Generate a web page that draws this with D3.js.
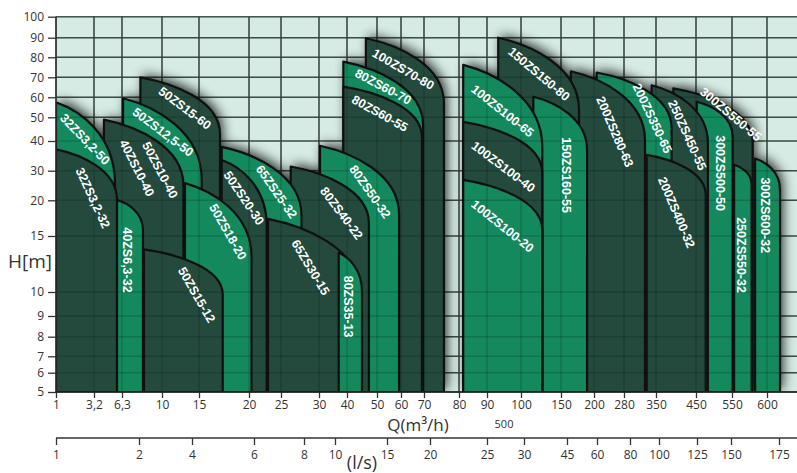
<!DOCTYPE html>
<html><head><meta charset="utf-8">
<script src="https://cdn.jsdelivr.net/npm/d3@7"></script>
<style>body{margin:0;background:#fff}</style>
</head><body>
<svg id="c" width="797" height="473"></svg>
<script>
// ---------- data ----------
const qTicks = [1,3.2,6.3,10,15,20,25,30,40,50,60,70,80,90,100,150,200,280,350,450,550,600];
const qTickLabels = ["1","3,2","6,3","10","15","20","25","30","40","50","60","70","80","90","100","150","200","280","350","450","550","600"];
const hTicks = [5,6,7,8,9,10,15,20,30,40,50,60,70,80,90,100];
const lsTicks = [1,2,4,6,8,10,15,20,25,30,45,60,80,100,125,150,175];

// pump fields in drawing order (back to front)
const models = ["50ZS15-60","50ZS12,5-50","40ZS10-40/50ZS10-40","32ZS3,2-50","32ZS3,2-32","40ZS6,3-32",
  "100ZS70-80","80ZS60-70","80ZS60-55","80ZS50-32","80ZS40-22","65ZS25-32","50ZS20-30","50ZS18-20","50ZS15-12","65ZS30-15","80ZS35-13",
  "300ZS550-55","300ZS500-50","250ZS450-55","200ZS350-65","200ZS280-63","150ZS150-80","150ZS160-55",
  "100ZS100-65","100ZS100-40","100ZS100-20","200ZS400-32","250ZS550-32","300ZS600-32"];
const qStart = [8,6.4,4.3,1,1,5.75, 46.3,38.7,38.7,30.36,26.28,17.27,17.27,13.1,8.33,22.97,37.04,
  393.3,452,340.5,207.2,165,93.3,115.4, 81.5,81.5,81.5,329.6,553,583];
const qEnd = [17.1,15.27,12.9,5.53,5.75,8.24, 75.7,69.6,69.1,59.2,47.3,27.7,22.77,20.4,17.37,44,45,
  579.6,551,483,389,325.9,177.3,189.5, 126.6,126.6,126.6,477,578,618.6];
const hTop = [70,59.5,49,57.5,37.2,20.1, 89.7,77.8,65.3,38.4,31.4,38,33.6,25.8,13.8,17.4,13.5,
  64.5,57.8,66,72.4,73,90,60.3, 76.2,48.1,26.9,35.3,32,34.1];
const hBend = [43,27,25,25.5,20.1,15.8, 57,46.7,41.7,18,16.8,17.9,16.5,13.1,9.9,10.1,10,
  39.4,41.7,39.4,45.5,40.4,53.7,37, 38,29.2,15.8,21.8,25.2,23.5];
const series = ["dark","light","dark","light","dark","light", "dark","light","dark","light","dark","light","dark","light","dark","dark","light",
  "dark","light","dark","light","dark","dark","light", "light","dark","light","dark","light","light"];

// labels (anchor in data units)
const labelText = ["50ZS15-60","50ZS12,5-50","40ZS10-40","50ZS10-40","32ZS3,2-50","32ZS3,2-32","40ZS6,3-32",
  "100ZS70-80","80ZS60-70","80ZS60-55","80ZS50-32","80ZS40-22","65ZS25-32","50ZS20-30","50ZS18-20","50ZS15-12","65ZS30-15","80ZS35-13",
  "150ZS150-80","150ZS160-55","100ZS100-65","100ZS100-40","100ZS100-20","200ZS280-63","200ZS350-65","200ZS400-32","250ZS450-55",
  "300ZS550-55","300ZS500-50","250ZS550-32","300ZS600-32"];
const labelQ = [13.1,10.14,7.69,9.82,2.68,3.14,6.76, 61,52.6,51.25,47.7,38.1,24.3,19.5,17.9,14.7,28.9,40.4,
  122.5,158.6,94.6,94.8,94.6,256,342.3,401.75,428.75, 546.7,516.7,563.9,597.1];
const labelH = [54.65,43.8,30.9,30.24,40.8,20.8,12.86, 74.05,65.3,52,22.9,18.2,22.9,20.8,15.6,9.88,12.2,9.39,
  71.65,28.5,53.25,31.35,16.4,43.9,49.6,18.3,42.5, 51.55,29.2,13.3,17.9];
const labelAngle = [37,37,63,62,46,65,90, 30,28,29,55,53,55,56,60,60,59,90,
  40,90,38.5,37,38.5,66.5,64.5,67,65.5, 40,90,90,90];

// ---------- layout ----------
const qPx = [56,94,122,162,199,249,281,319,347,377,401,424,459,487,521,561,594,624,656,696,732,767];
const hPx = [392,372.7,356.3,336.7,316,292,236,200.3,170.7,141,117.3,97.3,77.3,57.3,37.7,16.7];
const lsPx = [56,139,192,254,304,335,387,430,487,524,567,597,630,659,697,731,779];
const plotL = 56, plotR = 797, plotT = 16.7, plotB = 392, lsY = 438;

const x = d3.scaleLinear().domain(qTicks).range(qPx);
const y = d3.scaleLinear().domain(hTicks).range(hPx);
const xs = d3.scaleLinear().domain(lsTicks).range(lsPx);
const color = d3.scaleOrdinal().domain(["dark","light"]).range(["#234a3d","#13895d"]);

const svg = d3.select("#c");
const defs = svg.append("defs");
defs.append("clipPath").attr("id","plot").append("rect")
  .attr("x",plotL).attr("y",plotT).attr("width",plotR-plotL).attr("height",plotB-plotT);
const f = defs.append("filter").attr("id","sh").attr("x","-30%").attr("y","-30%").attr("width","160%").attr("height","160%");
f.append("feGaussianBlur").attr("in","SourceAlpha").attr("stdDeviation",6);
f.append("feOffset").attr("dx",3).attr("dy",-3).attr("result","b");
f.append("feComponentTransfer").append("feFuncA").attr("type","linear").attr("slope",0.8);

// background
svg.append("rect").attr("x",plotL).attr("y",plotT).attr("width",plotR-plotL).attr("height",plotB-plotT).attr("fill","#d5ebe4");

function grid(g, stroke, op, sw){
  g.selectAll(".v").data(qTicks).join("line").attr("class","v")
    .attr("x1",d=>x(d)).attr("x2",d=>x(d)).attr("y1",plotT).attr("y2",plotB)
    .attr("stroke",stroke).attr("stroke-opacity",op).attr("stroke-width",sw);
  g.selectAll(".h").data(hTicks).join("line").attr("class","h")
    .attr("x1",plotL).attr("x2",plotR).attr("y1",d=>y(d)).attr("y2",d=>y(d))
    .attr("stroke",stroke).attr("stroke-opacity",op).attr("stroke-width",sw);
}
grid(svg.append("g"), "#4c5b56", 1, 1.6);

const idx = d3.range(models.length);
function shapePath(i){
  const x0 = x(qStart[i]), x1 = x(qEnd[i]), yT = y(hTop[i]), yE = y(hBend[i]), yB = y(5);
  const w = x1-x0, h = yE-yT;
  return `M${x0},${yB}L${x0},${yT}C${x0+0.4*w},${yT+0.1*h} ${x1},${yE-0.6*h} ${x1},${yE}L${x1},${yB}Z`;
}

const clipG = svg.append("g").attr("clip-path","url(#plot)");
clipG.append("g").attr("filter","url(#sh)").selectAll("path").data(idx).join("path")
  .attr("d",shapePath).attr("fill","#000");
clipG.append("g").selectAll("path").data(idx).join("path")
  .attr("d",shapePath).attr("fill",i=>color(series[i]))
  .attr("stroke","#101010").attr("stroke-width",2.2).attr("stroke-linejoin","round");
// faint grid over the fields
grid(clipG.append("g"), "#000", 0.16, 1.4);

// labels
svg.append("g").selectAll("text").data(d3.range(labelText.length)).join("text")
  .attr("transform",i=>`translate(${x(labelQ[i])},${y(labelH[i])}) rotate(${labelAngle[i]})`)
  .attr("text-anchor","middle").attr("dy","0.35em")
  .attr("font-family","'Liberation Sans',Arial,sans-serif").attr("font-weight","bold")
  .attr("font-size",12.5).attr("fill","#fff").text(i=>labelText[i]);

// axes
const axFont = "'Open Sans','DejaVu Sans',sans-serif";
function styleAxis(g){
  g.select(".domain").remove();
  g.selectAll("line").attr("stroke","#333").attr("stroke-width",1.3);
  g.selectAll("text").attr("font-family",axFont).attr("font-size",12).attr("fill","#333");
}
const yAx = svg.append("g").attr("transform",`translate(${plotL},0)`)
  .call(d3.axisLeft(y).tickValues(hTicks).tickSize(8).tickPadding(4).tickFormat(d3.format("d")));
styleAxis(yAx);
const xAx = svg.append("g").attr("transform",`translate(0,${plotB})`)
  .call(d3.axisBottom(x).tickValues(qTicks).tickSize(6).tickPadding(2).tickFormat((d,i)=>qTickLabels[i]));
styleAxis(xAx);
svg.append("line").attr("x1",plotL).attr("x2",plotR).attr("y1",plotB).attr("y2",plotB).attr("stroke","#222").attr("stroke-width",1.5);
svg.append("line").attr("x1",plotL).attr("x2",plotL).attr("y1",plotT).attr("y2",plotB).attr("stroke","#333").attr("stroke-width",1.3);

const lsAx = svg.append("g").attr("transform",`translate(0,${lsY})`)
  .call(d3.axisBottom(xs).tickValues(lsTicks).tickSize(7).tickPadding(5).tickFormat(d3.format("d")));
styleAxis(lsAx);
svg.append("line").attr("x1",plotL).attr("x2",plotR).attr("y1",lsY).attr("y2",lsY).attr("stroke","#333").attr("stroke-width",1.5);

// titles
svg.append("text").attr("x",30).attr("y",268).attr("text-anchor","middle")
  .attr("font-family",axFont).attr("font-size",19).attr("fill","#333").text("H[m]");
svg.append("text").attr("x",418).attr("y",431).attr("text-anchor","middle")
  .attr("font-family",axFont).attr("font-size",17).attr("fill","#333").text("Q(m³/h)");
svg.append("text").attr("x",504).attr("y",428).attr("text-anchor","middle")
  .attr("font-family",axFont).attr("font-size",11).attr("fill","#333").text("500");
svg.append("text").attr("x",362).attr("y",469).attr("text-anchor","middle")
  .attr("font-family",axFont).attr("font-size",18).attr("fill","#333").text("(l/s)");
</script>
</body></html>
